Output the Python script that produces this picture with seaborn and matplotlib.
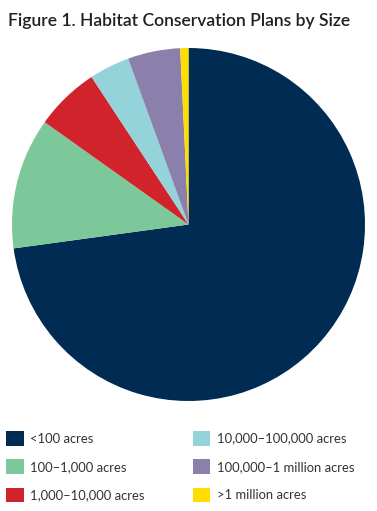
import matplotlib.pyplot as plt
import seaborn as sns

# share of habitat conservation plans by plan size
categories = ['<100 acres', '100\u20131,000 acres', '1,000\u201310,000 acres',
              '10,000\u2013100,000 acres', '100,000\u20131 million acres', '>1 million acres']
shares = [72.8, 12.0, 5.9, 3.7, 4.8, 0.75]
colors = ['#002B52', '#7DC89A', '#D0232B', '#94D3D9', '#8A80AB', '#FFDD00']

sns.set_theme(style='white')
plt.rcParams['font.family'] = ['Lato', 'DejaVu Sans']

fig = plt.figure(figsize=(3.77, 5.11), dpi=100)
W, H = 377, 511

# pie axes, placed by pixels
left, top, size = 12, 48, 353
ax = fig.add_axes([left / W, (H - top - size) / H, size / W, size / H])
wedges, _ = ax.pie(shares, colors=sns.color_palette(colors), startangle=90,
                   counterclock=False, wedgeprops={'linewidth': 0})
ax.set_xlim(-1, 1)
ax.set_ylim(-1, 1)
ax.set_aspect('equal')
ax.axis('off')

fig.text(8 / W, 1 - 21 / H, 'Figure 1. Habitat Conservation Plans by Size',
         fontsize=12.6, fontweight='semibold', color='#231F20', va='center', ha='left')

leg = fig.legend(wedges, categories, ncol=2, loc='upper left',
                 bbox_to_anchor=(2 / W, 1 - 427 / H), frameon=False,
                 fontsize=9.4, handlelength=1.35, handleheight=1.35,
                 handletextpad=0.5, columnspacing=3.7, labelspacing=1.05,
                 borderaxespad=0, borderpad=0.3)
for t in leg.get_texts():
    t.set_color('#333333')

fig.savefig('out.png', dpi=100)
